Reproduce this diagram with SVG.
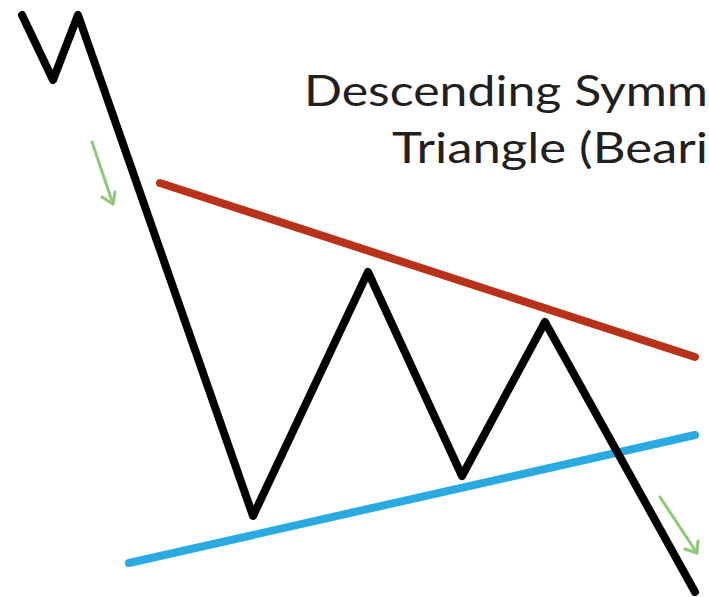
<svg xmlns="http://www.w3.org/2000/svg" width="709" height="597" viewBox="0 0 709 597">
<style>
.t{font-family:Lato,"Open Sans",sans-serif;font-size:43px;fill:#231f20}
.ln{fill:none;stroke-width:8;stroke-linecap:round;stroke-linejoin:round}
.ar{fill:none;stroke:#8cc97a;stroke-width:3;stroke-linecap:round;stroke-linejoin:round}
</style>
<rect width="709" height="597" fill="#fff"/>
<g id="title">
<text class="t" x="304" y="106" textLength="404" lengthAdjust="spacingAndGlyphs">Descending Symm</text>
<text class="t" x="392" y="163" textLength="316" lengthAdjust="spacingAndGlyphs">Triangle (Beari</text>
</g>
<g id="connectors">
<line id="resistance" class="ln" x1="160" y1="183" x2="695" y2="357" stroke="#b73218"/>
<line id="support" class="ln" x1="129" y1="563" x2="695" y2="435" stroke="#29abe2"/>
<polyline id="price" class="ln" stroke="#000" points="22,15 53,80 78,15 253,516 368,272 462,476 545,322 695,592"/>
<g id="arrow1"><line class="ar" x1="92" y1="142" x2="113" y2="204"/><polyline class="ar" points="102,197 113,204 115,192"/></g>
<g id="arrow2"><line class="ar" x1="660" y1="497" x2="697" y2="553"/><polyline class="ar" points="685,549 697,553 698,541"/></g>
</g>
</svg>
